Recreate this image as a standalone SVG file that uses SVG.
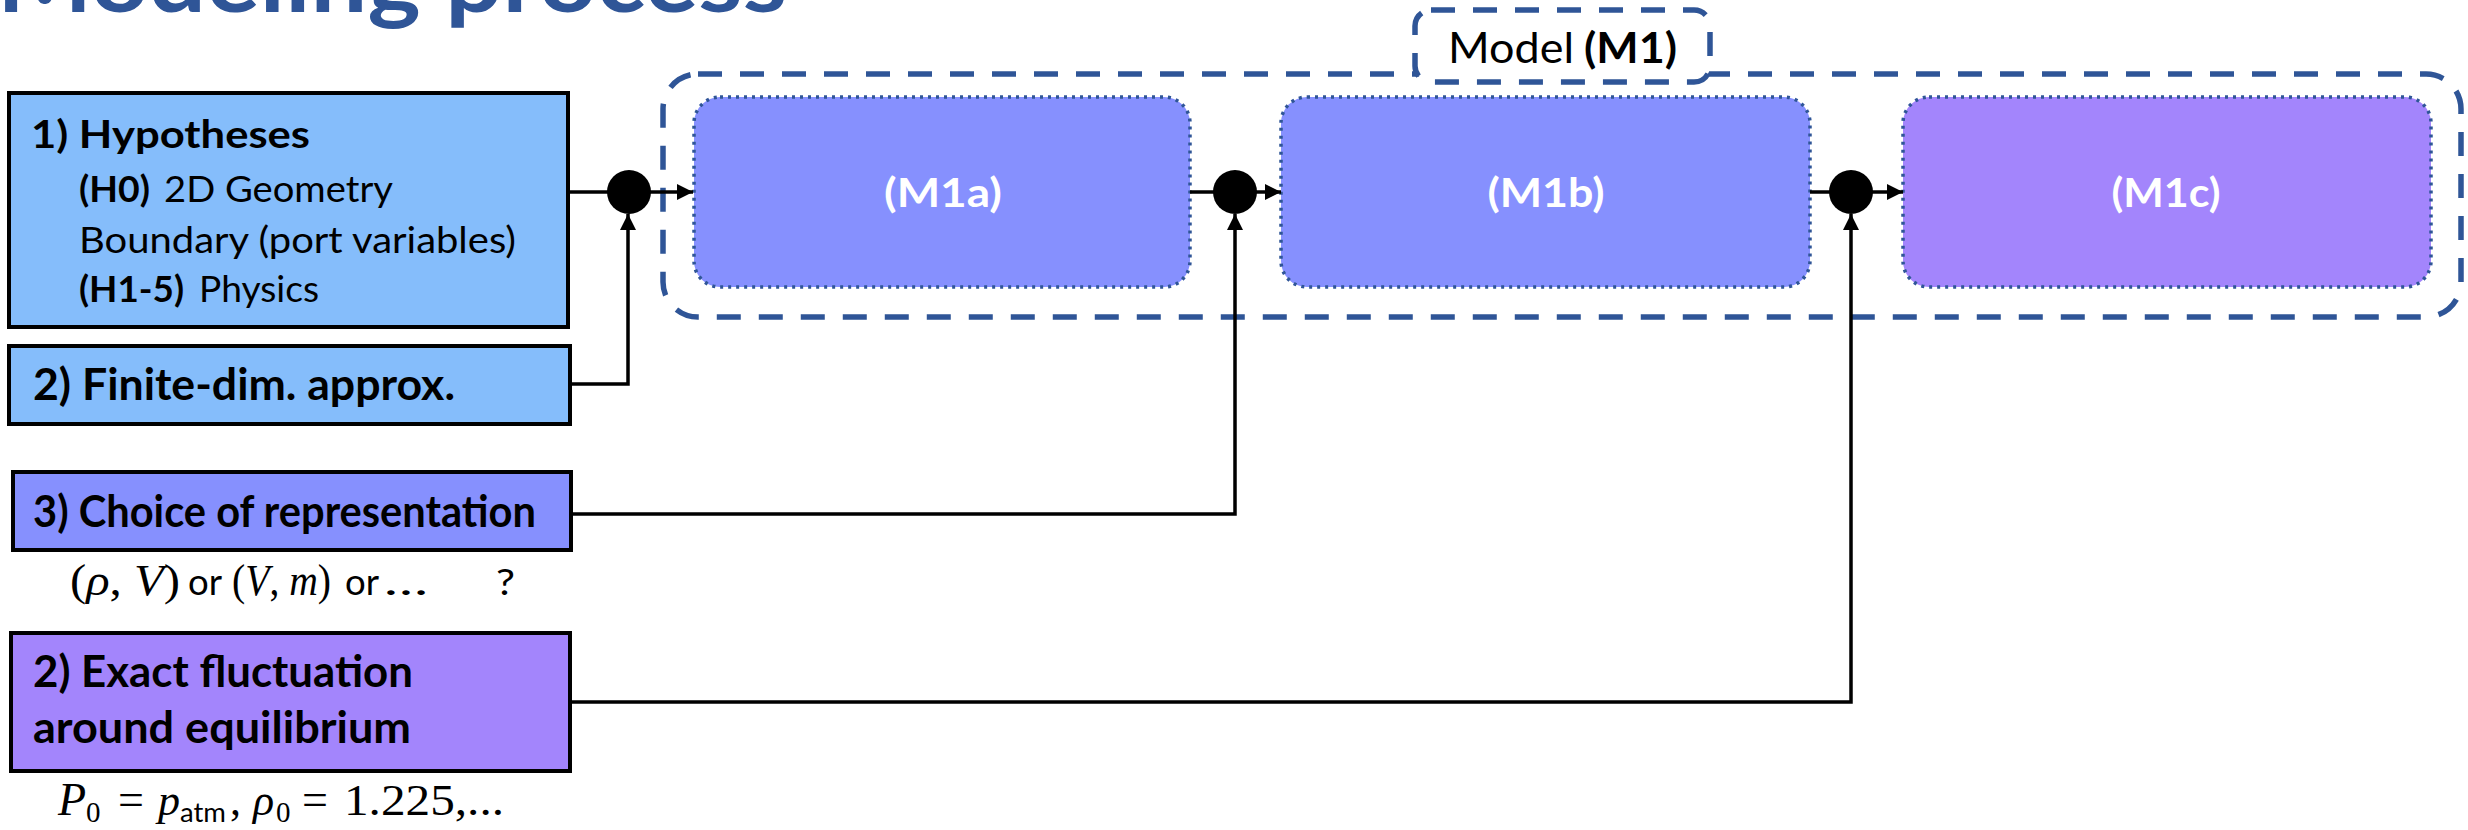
<svg xmlns="http://www.w3.org/2000/svg" width="2468" height="830" viewBox="0 0 2468 830">
<defs>
<style>
.t{font-family:Lato,'Liberation Sans',sans-serif;fill:#000}
.b{font-weight:bold}
.m{font-family:'Liberation Serif',serif;font-style:italic}
.r{font-family:'Liberation Serif',serif;fill:#000}
.box{stroke:#000;stroke-width:4}
.mod{stroke:#2F5597;stroke-width:3.5;stroke-dasharray:3 5}
.dash{fill:none;stroke:#2F5597;stroke-width:5.5;stroke-dasharray:24 18}
.wire{fill:none;stroke:#000;stroke-width:3.5}
.jn{fill:#000}
.ml{font-family:Lato,'Liberation Sans',sans-serif;font-weight:bold;fill:#fff;font-size:40px}
</style>
<marker id="ah" markerUnits="userSpaceOnUse" markerWidth="17" markerHeight="17" refX="16" refY="8" orient="auto"><path d="M0,0 L16,8 L0,16 z" fill="#000"/></marker>
</defs>
<rect width="2468" height="830" fill="#fff"/>

<g id="title">
<text class="t b" x="-3" y="12" font-size="92" style="fill:#2F5597" textLength="790" lengthAdjust="spacingAndGlyphs">Modeling process</text>
</g>

<g id="model-M1">
<rect class="dash" x="663" y="74" width="1798" height="243" rx="35"/>
</g>
<g id="model-label">
<rect class="dash" x="1415" y="10" width="295" height="72" rx="16" style="fill:#fff"/>
<text class="t" x="1448" y="63" font-size="42" textLength="126" lengthAdjust="spacingAndGlyphs">Model</text>
<text class="t b" x="1584" y="63" font-size="42" textLength="93" lengthAdjust="spacingAndGlyphs">(M1)</text>
</g>

<g id="M1a">
<rect class="mod" x="694" y="97" width="496" height="190" rx="26" fill="#8690FE"/>
<text class="ml" x="943" y="207" text-anchor="middle" textLength="118" lengthAdjust="spacingAndGlyphs">(M1a)</text>
</g>
<g id="M1b">
<rect class="mod" x="1281" y="97" width="529" height="190" rx="26" fill="#8690FE"/>
<text class="ml" x="1546" y="207" text-anchor="middle" textLength="117" lengthAdjust="spacingAndGlyphs">(M1b)</text>
</g>
<g id="M1c">
<rect class="mod" x="1903" y="97" width="528" height="190" rx="26" fill="#A385FC"/>
<text class="ml" x="2166" y="207" text-anchor="middle" textLength="109" lengthAdjust="spacingAndGlyphs">(M1c)</text>
</g>

<g id="hypotheses">
<rect class="box" x="9" y="93" width="559" height="234" fill="#85BDFB"/>
<text class="t b" x="31" y="148" font-size="39" textLength="279" lengthAdjust="spacingAndGlyphs">1) Hypotheses</text>
<text class="t b" x="79" y="202" font-size="36" textLength="71" lengthAdjust="spacingAndGlyphs">(H0)</text>
<text class="t" x="164" y="202" font-size="36" textLength="229" lengthAdjust="spacingAndGlyphs">2D Geometry</text>
<text class="t" x="79" y="253" font-size="36" textLength="437" lengthAdjust="spacingAndGlyphs">Boundary (port variables)</text>
<text class="t b" x="79" y="302" font-size="36" textLength="105" lengthAdjust="spacingAndGlyphs">(H1-5)</text>
<text class="t" x="199" y="302" font-size="36" textLength="120" lengthAdjust="spacingAndGlyphs">Physics</text>
</g>

<g id="finite-dim">
<rect class="box" x="9" y="346" width="561" height="78" fill="#85BDFB"/>
<text class="t b" x="33" y="400" font-size="43" textLength="422" lengthAdjust="spacingAndGlyphs">2) Finite-dim. approx.</text>
</g>

<g id="representation">
<rect class="box" x="13" y="472" width="558" height="78" fill="#8690FE"/>
<text class="t b" x="33" y="527" font-size="43" textLength="503" lengthAdjust="spacingAndGlyphs">3) Choice of representation</text>
<text class="r" x="70" y="595" font-size="44" textLength="110" lengthAdjust="spacingAndGlyphs">(<tspan class="m">ρ</tspan>, <tspan class="m">V</tspan>)</text>
<text class="t" x="188" y="595" font-size="37" textLength="34" lengthAdjust="spacingAndGlyphs">or</text>
<text class="r" x="232" y="595" font-size="44" textLength="99" lengthAdjust="spacingAndGlyphs">(<tspan class="m">V</tspan>, <tspan class="m">m</tspan>)</text>
<text class="t" x="345" y="595" font-size="37" textLength="34" lengthAdjust="spacingAndGlyphs">or</text>
<text class="t" x="384" y="595" font-size="37" textLength="44" lengthAdjust="spacingAndGlyphs">…</text>
<text class="t" x="496" y="595" font-size="37" textLength="19" lengthAdjust="spacingAndGlyphs">?</text>
</g>

<g id="fluctuation">
<rect class="box" x="11" y="633" width="559" height="138" fill="#A385FC"/>
<text class="t b" x="33" y="687" font-size="43" textLength="380" lengthAdjust="spacingAndGlyphs">2) Exact fluctuation</text>
<text class="t b" x="33" y="743" font-size="43" textLength="378" lengthAdjust="spacingAndGlyphs">around equilibrium</text>
<text class="r m" x="58" y="815" font-size="46">P</text>
<text class="r" x="86" y="822" font-size="29">0</text>
<text class="r" x="118" y="815" font-size="46">=</text>
<text class="r m" x="158" y="815" font-size="44">p</text>
<text class="t" x="180" y="822" font-size="27" textLength="46" lengthAdjust="spacingAndGlyphs">atm</text>
<text class="r" x="230" y="815" font-size="44">,</text>
<text class="r m" x="253" y="815" font-size="44">ρ</text>
<text class="r" x="276" y="822" font-size="29">0</text>
<text class="r" x="302" y="815" font-size="46">=</text>
<text class="r" x="344" y="815" font-size="44" textLength="160" lengthAdjust="spacingAndGlyphs">1.225,...</text>
</g>

<g id="connectors">
<path class="wire" d="M568,192 H693" marker-end="url(#ah)"/>
<path class="wire" d="M570,384 H628 V214" marker-end="url(#ah)"/>
<path class="wire" d="M1190,192 H1281" marker-end="url(#ah)"/>
<path class="wire" d="M571,514 H1235 V214" marker-end="url(#ah)"/>
<path class="wire" d="M1810,192 H1903" marker-end="url(#ah)"/>
<path class="wire" d="M570,702 H1851 V214" marker-end="url(#ah)"/>
</g>
<g id="junctions">
<circle id="j1" class="jn" cx="629" cy="192" r="22"/>
<circle id="j2" class="jn" cx="1235" cy="192" r="22"/>
<circle id="j3" class="jn" cx="1851" cy="192" r="22"/>
</g>
</svg>
